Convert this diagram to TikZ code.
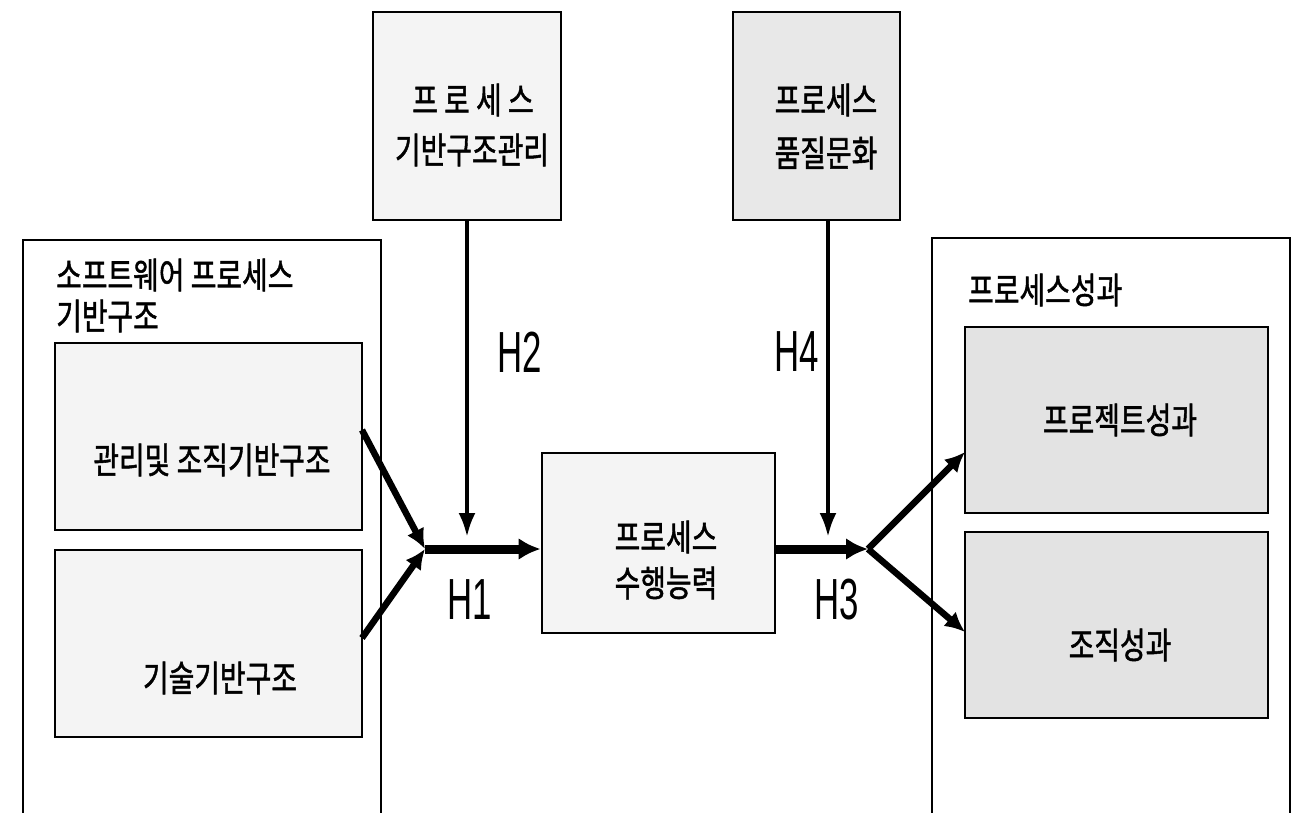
\documentclass[tikz,border=0pt]{standalone}
\usepackage{fontspec}
\newfontfamily\kr{Noto Sans CJK KR}[FakeBold=1.5]
\setmainfont{Liberation Sans}
\usetikzlibrary{arrows.meta}
\tikzset{
  box/.style={draw=black, line width=2.8pt, inner sep=0pt},
  lightbox/.style={box, fill=gray!9},
  darkbox/.style={box, fill=gray!22},
  outerbox/.style={draw=black, line width=2.2pt, fill=white, inner sep=0pt},
  ktext/.style={font=\kr\fontsize{30}{40}\selectfont, align=center, inner sep=0pt},
  hlabel/.style={font=\fontsize{58}{60}\selectfont, inner sep=0pt},
  thickarrow/.style={line width=9pt, -{Latex[length=22pt,width=22pt]}},
  midarrow/.style={line width=6.5pt, -{Latex[length=20pt,width=19pt]}},
  thinarrow/.style={line width=4pt, -{Latex[length=24pt,width=17pt]}},
}
\newcommand{\hl}[1]{\scalebox{0.6}[1]{#1}}
\newcommand{\kt}[1]{\scalebox{0.93}[1.2]{#1}}
\begin{document}
\begin{tikzpicture}[x=1pt,y=-1pt]
\useasboundingbox (0,0) rectangle (1298,813);
% top boxes
\node[lightbox, minimum width=188pt, minimum height=208pt] (t1) at (467,116) {};
\node[ktext] (t1a) at (473,100) {\kt{프 로 세 스}};
\node[ktext] (t1b) at (472,150) {\kt{기반구조관리}};
\node[box, fill=gray!18, minimum width=167pt, minimum height=208pt] (t2) at (816.5,116) {};
\node[ktext] (t2a) at (826,100) {\kt{프로세스}};
\node[ktext] (t2b) at (826,153) {\kt{품질문화}};
% left outer
\draw[outerbox] (23,240) rectangle (381,830);
\node[ktext, anchor=west] (lt1) at (56,275) {\kt{소프트웨어 프로세스}};
\node[ktext, anchor=west] (lt2) at (56,316) {\kt{기반구조}};
\node[lightbox, minimum width=307pt, minimum height=187pt] (l1) at (208.5,436.5) {};
\node[ktext] (l1t) at (212,460) {\kt{관리및 조직기반구조}};
\node[lightbox, minimum width=307pt, minimum height=187pt] (l2) at (208.5,643.5) {};
\node[ktext] (l2t) at (220,678) {\kt{기술기반구조}};
% right outer
\draw[outerbox] (932,238) rectangle (1290,830);
\node[ktext, anchor=west] (rt) at (968,290) {\kt{프로세스성과}};
\node[darkbox, minimum width=303pt, minimum height=186pt] (r1) at (1116.5,420) {};
\node[ktext] (r1t) at (1120,420) {\kt{프로젝트성과}};
\node[darkbox, minimum width=303pt, minimum height=186pt] (r2) at (1116.5,625) {};
\node[ktext] (r2t) at (1120,645) {\kt{조직성과}};
% center
\node[lightbox, minimum width=233pt, minimum height=180pt] (c) at (658.5,543) {};
\node[ktext] (ct1) at (666,537) {\kt{프로세스}};
\node[ktext] (ct2) at (666,583) {\kt{수행능력}};
% junctions and connectors
\coordinate (j1) at (425,549);
\coordinate (j2) at (868,549);
\coordinate (l1e) at (362,430);
\coordinate (l2e) at (362,638);
\coordinate (h2e) at (467,537);
\coordinate (h4s) at (828,220);
\coordinate (h4e) at (828,537);
\coordinate (r1e) at (965,452);
\coordinate (r2e) at (965,632);
\draw[midarrow] (l1e) -- (j1);
\draw[midarrow] (l2e) -- (j1);
\draw[thickarrow] (j1) -- (c.west |- j1);
\draw[thinarrow] (t1.south) -- (h2e);
\draw[thinarrow] (h4s) -- (h4e);
\draw[thickarrow] (c.east |- j2) -- (j2);
\draw[midarrow] (j2) -- (r1e);
\draw[midarrow] (j2) -- (r2e);
% labels
\node[hlabel] (h1) at (470,600) {\hl{H1}};
\node[hlabel] (h2) at (520,352) {\hl{H2}};
\node[hlabel] (h3) at (837,600) {\hl{H3}};
\node[hlabel] (h4) at (797,352) {\hl{H4}};
\end{tikzpicture}
\end{document}
